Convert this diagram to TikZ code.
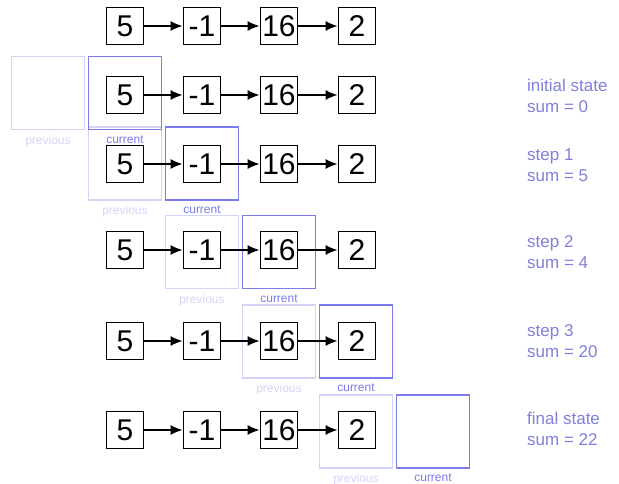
\documentclass[tikz,border=0pt]{standalone}
\usepackage{fontspec}
\setmainfont{Liberation Sans}
\usetikzlibrary{arrows.meta}
\definecolor{curblue}{HTML}{7B7BEB}
\definecolor{prevblue}{HTML}{D4D4FA}
\definecolor{labblue}{HTML}{7F7FDD}
\tikzset{
  item/.style={draw=black, line width=1.7pt, minimum width=37pt, minimum height=37pt, inner sep=0pt, fill=white, font=\fontsize{30}{30}\selectfont},
  link/.style={line width=1.6pt, -{Latex[length=12pt,width=10pt]}},
  curbox/.style={draw=curblue, line width=1.7pt, minimum size=73pt, inner sep=0pt},
  prevbox/.style={draw=prevblue, line width=1.7pt, minimum size=73pt, inner sep=0pt},
  curlab/.style={text=curblue, inner sep=0pt, font=\fontsize{12}{12}\selectfont},
  prevlab/.style={text=prevblue, inner sep=0pt, font=\fontsize{12}{12}\selectfont},
  steplab/.style={text=labblue, inner sep=0pt, anchor=west, align=left, font=\fontsize{17}{21}\selectfont}
}
\begin{document}
\begin{tikzpicture}[x=1pt, y=-1pt]
\useasboundingbox (0,0) rectangle (619,484);
% previous boxes
\foreach \r/\by/\pk in {2/93/0, 3/163.5/1, 4/252/2, 5/341.5/3, 6/431.5/4}{
  \node[prevbox] (p\r) at ({48+77*\pk}, \by) {};
  \node[prevlab, below=5pt] (pl\r) at (p\r.south) {previous};
}
% current boxes
\foreach \r/\by/\ck in {2/93/1, 3/163.5/2, 4/252/3, 5/341.5/4, 6/431.5/5}{
  \node[curbox] (c\r) at ({48+77*\ck}, \by) {};
  \node[curlab, below=5pt] (cl\r) at (c\r.south) {current};
}
% list rows
\foreach \r/\y in {1/26, 2/95, 3/164, 4/250, 5/341, 6/430}{
  \node[item] (a\r) at (125, \y) {5};
  \node[item] (b\r) at (202, \y) {-1};
  \node[item] (d\r) at (279, \y) {16};
  \node[item] (e\r) at (357, \y) {2};
  \draw[link] (a\r) -- (b\r);
  \draw[link] (b\r) -- (d\r);
  \draw[link] (d\r) -- (e\r);
}
% step labels
\node[steplab] (s2) at (527, 95.5) {initial state\\sum = 0};
\node[steplab] (s3) at (527, 165) {step 1\\sum = 5};
\node[steplab] (s4) at (527, 252.5) {step 2\\sum = 4};
\node[steplab] (s5) at (527, 341.5) {step 3\\sum = 20};
\node[steplab] (s6) at (527, 429) {final state\\sum = 22};
\end{tikzpicture}
\end{document}
